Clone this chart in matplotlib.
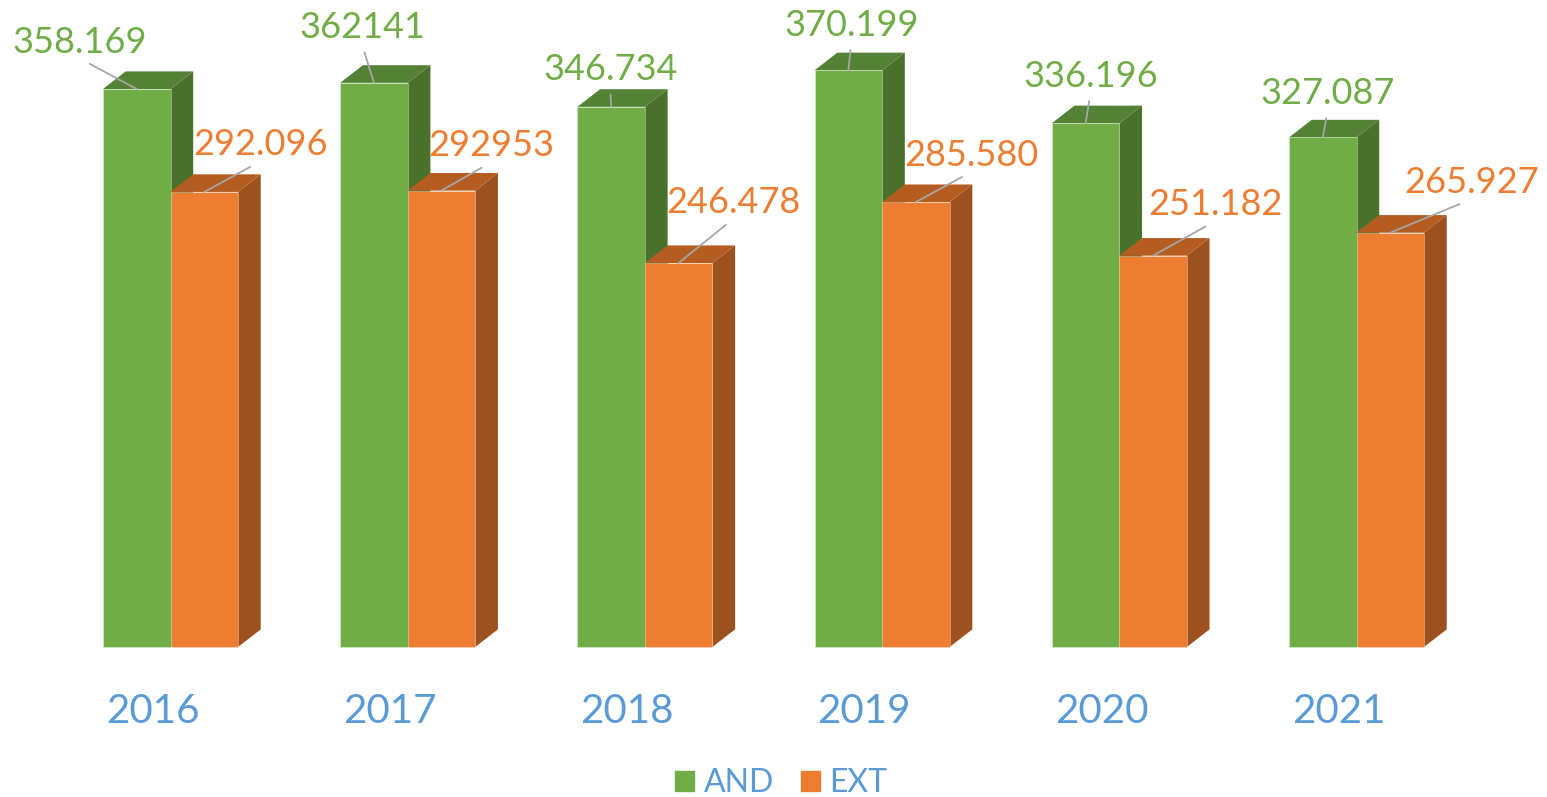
import matplotlib
matplotlib.use('Agg')
import matplotlib.pyplot as plt
from matplotlib.patches import Polygon, Patch

years = ['2016', '2017', '2018', '2019', '2020', '2021']
and_vals = [358.169, 362.141, 346.734, 370.199, 336.196, 327.087]
ext_vals = [292.096, 292.953, 246.478, 285.580, 251.182, 265.927]
and_labels = ['358.169', '362141', '346.734', '370.199', '336.196', '327.087']
ext_labels = ['292.096', '292953', '246.478', '285.580', '251.182', '265.927']

# label offsets (pixels) from the top centre of each bar
and_offs = [(-57, 47), (-12, 55), (-1, 37), (3, 45), (5, 47), (5, 44)]
ext_offs = [(56, 47), (50, 45), (55, 61), (56, 47), (62, 51), (81, 50)]

plt.rcParams['font.family'] = ['Lato', 'DejaVu Sans']

green = ['#70AD47', '#548235', '#4A712C']   # front, top, side
orange = ['#ED7D31', '#B55D21', '#9C511E']
blue = '#5B9BD5'
grey = '#A6A6A6'

fig = plt.figure(figsize=(15.47, 7.97), dpi=100)
ax = fig.add_axes([0, 0, 1, 1])
ax.axis('off')
ax.set_xlim(-0.7188, 5.803)
ax.set_ylim(-96.3, 415.3)

w = 0.2846
ddx = 0.0957
ddy = 11.3


def bar3d(x, v, cols, z):
    l, r = x - w / 2, x + w / 2
    side = Polygon([(r, 0), (r + ddx, ddy), (r + ddx, v + ddy), (r, v)],
                   closed=True, fc=cols[2], ec='none', zorder=z)
    top = Polygon([(l, v), (l + ddx, v + ddy), (r + ddx, v + ddy), (r, v)],
                  closed=True, fc=cols[1], ec='none', zorder=z)
    ax.add_patch(side)
    ax.add_patch(top)
    ax.bar(x, v, width=w, color=cols[0], zorder=z + 0.5,
           edgecolor=(1, 1, 1, 0.35), linewidth=0.6)


for i in range(len(years)):
    xg = i - w / 2
    xo = i + w / 2
    bar3d(xg, and_vals[i], green, 2 + 2 * i)
    bar3d(xo, ext_vals[i], orange, 3 + 2 * i)

    for x, v, lab, off, c in [(xg, and_vals[i], and_labels[i], and_offs[i], green[0]),
                              (xo, ext_vals[i], ext_labels[i], ext_offs[i], orange[0])]:
        ax.annotate(lab, xy=(x, v), xytext=off, textcoords='offset pixels',
                    ha='center', va='center', fontsize=26,
                    color=c, zorder=30,
                    arrowprops=dict(arrowstyle='-', color=grey, lw=1.3,
                                    relpos=(0.5, 0), shrinkA=4, shrinkB=0))

    ax.annotate(years[i], xy=(i - 0.075, 0), xytext=(0, -65),
                textcoords='offset pixels', ha='center', va='center',
                fontsize=29, color=blue)

handles = [Patch(color=green[0], label='AND'), Patch(color=orange[0], label='EXT')]
fig.legend(handles=handles, loc='center', bbox_to_anchor=(0.505, 0.017),
           ncol=2, frameon=False, labelcolor=blue,
           handlelength=0.6, handleheight=0.6, handletextpad=0.3,
           columnspacing=0.85, prop={'size': 23})

plt.savefig('out.png', dpi=100)
